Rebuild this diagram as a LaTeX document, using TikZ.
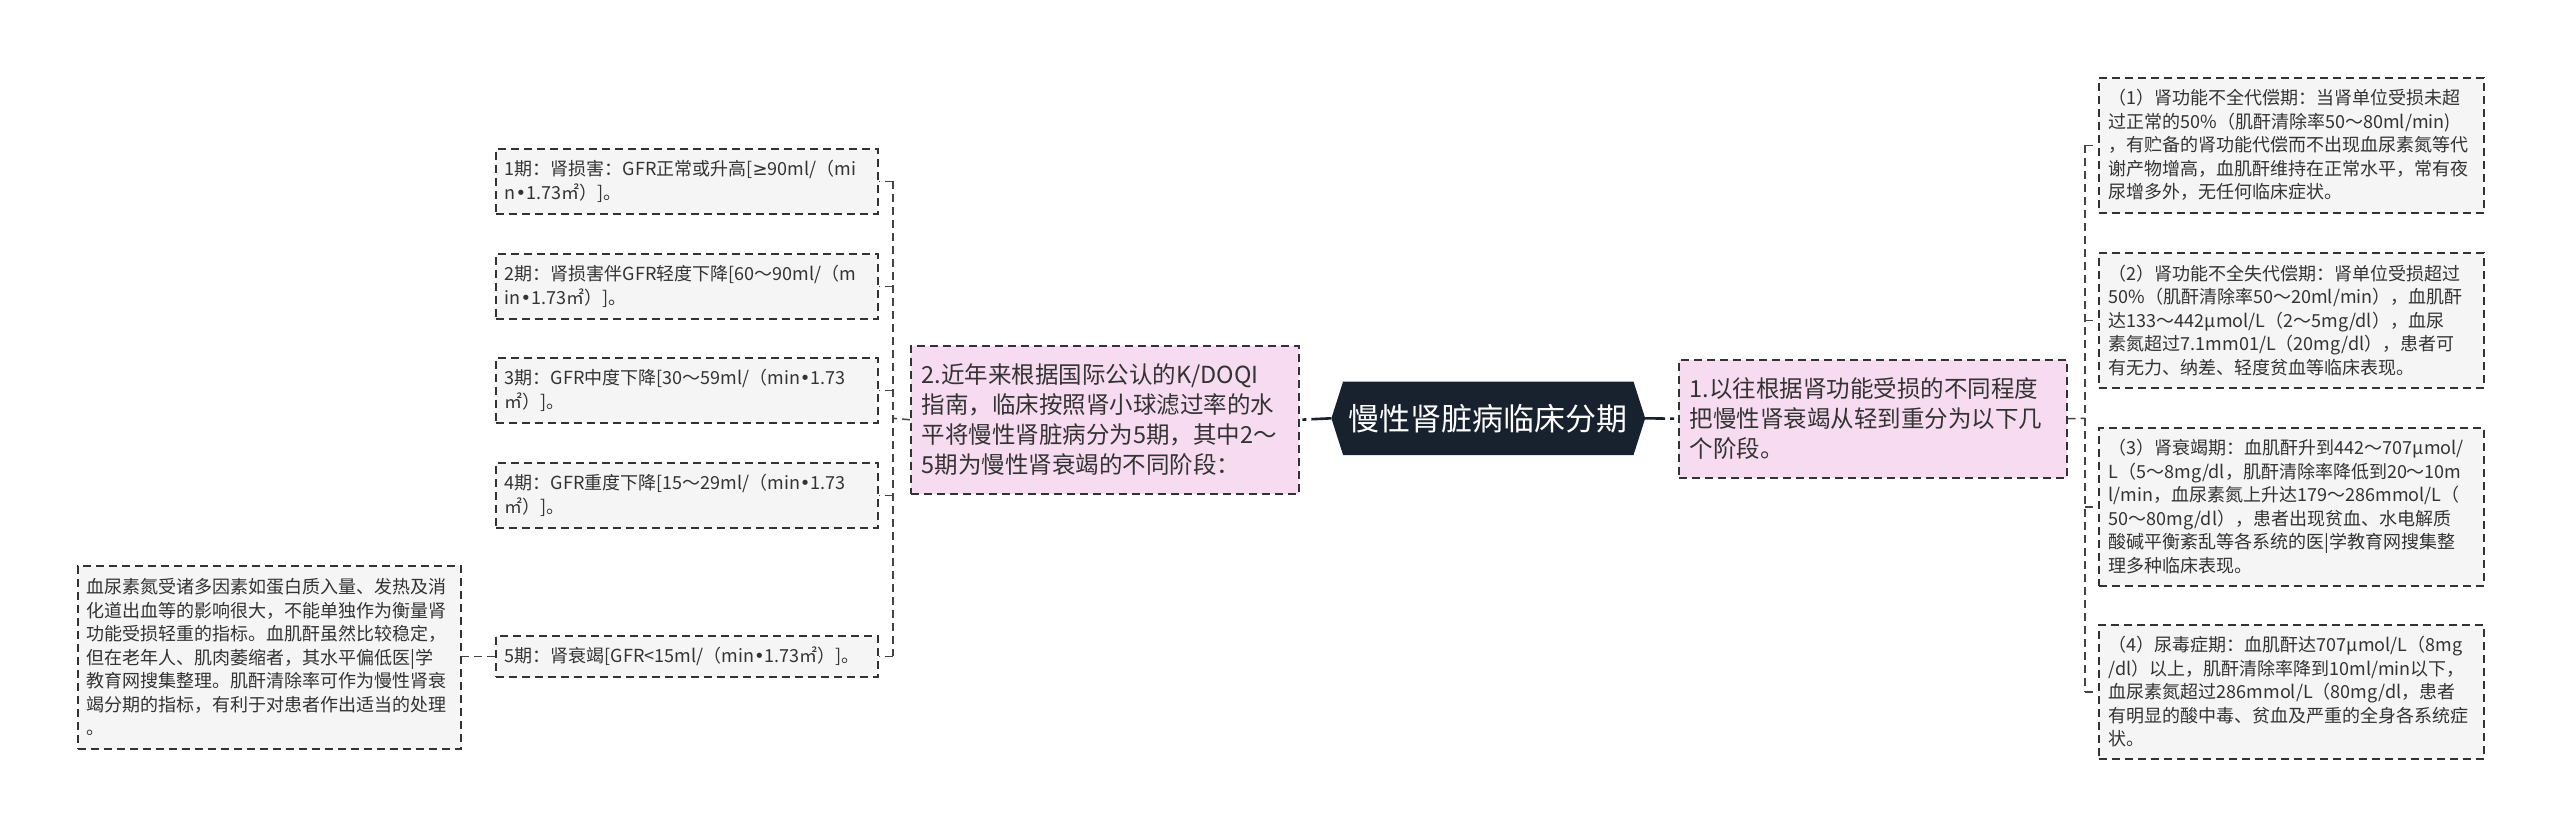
\documentclass[tikz,border=0pt]{standalone}
\usepackage{fontspec}
\setmainfont{Noto Sans CJK SC}
\newfontfamily\symf{DejaVu Sans}
\newcommand{\bul}{{\symf •}}
\newcommand{\geqs}{{\symf ≥}}
\usetikzlibrary{backgrounds}
\definecolor{rootc}{HTML}{18222F}
\definecolor{pinkc}{HTML}{F7DCF1}
\definecolor{grayc}{HTML}{F5F5F5}
\definecolor{bordc}{HTML}{333333}
\definecolor{txtc}{HTML}{333333}
\definecolor{linkc}{HTML}{444444}
\begin{document}
\begin{tikzpicture}[x=1pt,y=-1pt,
  sbox/.style={draw=bordc, line width=1.5pt, dash pattern=on 8pt off 5pt, fill=grayc,
    inner xsep=9pt, inner ysep=0pt, align=left, text=txtc,
    font=\fontsize{18}{23.5}\selectfont, anchor=north west},
  rbox/.style={sbox, inner xsep=10pt, text width=365pt},
  lbox/.style={sbox, text width=364pt},
  pbox/.style={sbox, fill=pinkc, inner xsep=11pt, text width=366pt,
    font=\fontsize{23.5}{30}\selectfont},
  rootnode/.style={minimum width=290pt, minimum height=73pt, inner sep=0pt,
    text=white, font=\fontsize{31}{36}\selectfont},
  link/.style={draw=linkc, line width=1.5pt, dash pattern=on 8pt off 5pt},
  rootlink/.style={draw=rootc, line width=2.6pt, dash pattern=on 20pt off 5pt on 4pt off 200pt}
]
\useasboundingbox (0,0) rectangle (2560,838);

% root
\node[rootnode] (root) at (1488.3,418.3) {慢性肾脏病临床分期};
\coordinate (rootL) at ([xshift=-11.7pt]root.west);
\coordinate (rootR) at ([xshift=11.7pt]root.east);
\begin{scope}[on background layer]
  \fill[white] (0,0) rectangle (2560,838);
  \fill[rootc] (rootL) -- (root.north west) -- (root.north east) -- (rootR)
    -- (root.south east) -- (root.south west) -- cycle;
\end{scope}

% pink branch nodes
\node[pbox, minimum height=118pt] (p1) at (1678,359)
  {1.以往根据肾功能受损的不同程度\\把慢性肾衰竭从轻到重分为以下几\\个阶段。};
\node[pbox, minimum height=148pt] (p2) at (910,345)
  {2.近年来根据国际公认的K/DOQI\\指南，临床按照肾小球滤过率的水\\平将慢性肾脏病分为5期，其中2～\\5期为慢性肾衰竭的不同阶段：};

% right leaves
\node[rbox, minimum height=135pt] (r1) at (2098,77)
  {（1）肾功能不全代偿期：当肾单位受损未超\\过正常的50\%（肌酐清除率50～80ml/min)\\，有贮备的肾功能代偿而不出现血尿素氮等代\\谢产物增高，血肌酐维持在正常水平，常有夜\\尿增多外，无任何临床症状。};
\node[rbox, minimum height=135pt] (r2) at (2098,252)
  {（2）肾功能不全失代偿期：肾单位受损超过\\50\%（肌酐清除率50～20ml/min），血肌酐\\达133～442μmol/L（2～5mg/dl），血尿\\素氮超过7.1mm01/L（20mg/dl），患者可\\有无力、纳差、轻度贫血等临床表现。};
\node[rbox, minimum height=158pt] (r3) at (2098,427)
  {（3）肾衰竭期：血肌酐升到442～707μmol/\\L（5～8mg/dl，肌酐清除率降低到20～10m\\l/min，血尿素氮上升达179～286mmol/L（\\50～80mg/dl），患者出现贫血、水电解质\\酸碱平衡紊乱等各系统的医|学教育网搜集整\\理多种临床表现。};
\node[rbox, minimum height=134pt] (r4) at (2098,624)
  {（4）尿毒症期：血肌酐达707μmol/L（8mg\\/dl）以上，肌酐清除率降到10ml/min以下，\\血尿素氮超过286mmol/L（80mg/dl，患者\\有明显的酸中毒、贫血及严重的全身各系统症\\状。};

% left leaves
\node[lbox, minimum height=65pt] (s1) at (495,148)
  {1期：肾损害：GFR正常或升高[\geqs90ml/（mi\\n\bul1.73㎡）]。};
\node[lbox, minimum height=65pt] (s2) at (495,253)
  {2期：肾损害伴GFR轻度下降[60～90ml/（m\\in\bul1.73㎡）]。};
\node[lbox, minimum height=65pt] (s3) at (495,357)
  {3期：GFR中度下降[30～59ml/（min\bul1.73\\㎡）]。};
\node[lbox, minimum height=65pt] (s4) at (495,462)
  {4期：GFR重度下降[15～29ml/（min\bul1.73\\㎡）]。};
\node[lbox, minimum height=41pt] (s5) at (495,635)
  {5期：肾衰竭[GFR<15ml/（min\bul1.73㎡）]。};
\node[sbox, text width=365pt, minimum height=183pt] (far) at (77,565)
  {血尿素氮受诸多因素如蛋白质入量、发热及消\\化道出血等的影响很大，不能单独作为衡量肾\\功能受损轻重的指标。血肌酐虽然比较稳定，\\但在老年人、肌肉萎缩者，其水平偏低医|学\\教育网搜集整理。肌酐清除率可作为慢性肾衰\\竭分期的指标，有利于对患者作出适当的处理\\。};

% root connectors
\draw[rootlink] (rootR) -- (p1.west);
\draw[rootlink] (rootL) -- (p2.east);

% right bracket
\coordinate (rb) at (2085,418.3);
\draw[link] (p1.east) -- (rb);
\draw[link] (rb|-r1.west) -- (rb|-r4.west);
\foreach \n in {r1,r2,r3,r4} {\draw[link] (rb|-\n.west) -- (\n.west);}

% left bracket
\coordinate (lb) at (893,418.3);
\draw[link] (p2.west) -- (lb);
\draw[link] (lb|-s1.east) -- (lb|-s5.east);
\foreach \n in {s1,s2,s3,s4,s5} {\draw[link] (lb|-\n.east) -- (\n.east);}
\draw[link] (s5.west) -- (far.east|-s5.west);
\end{tikzpicture}
\end{document}
